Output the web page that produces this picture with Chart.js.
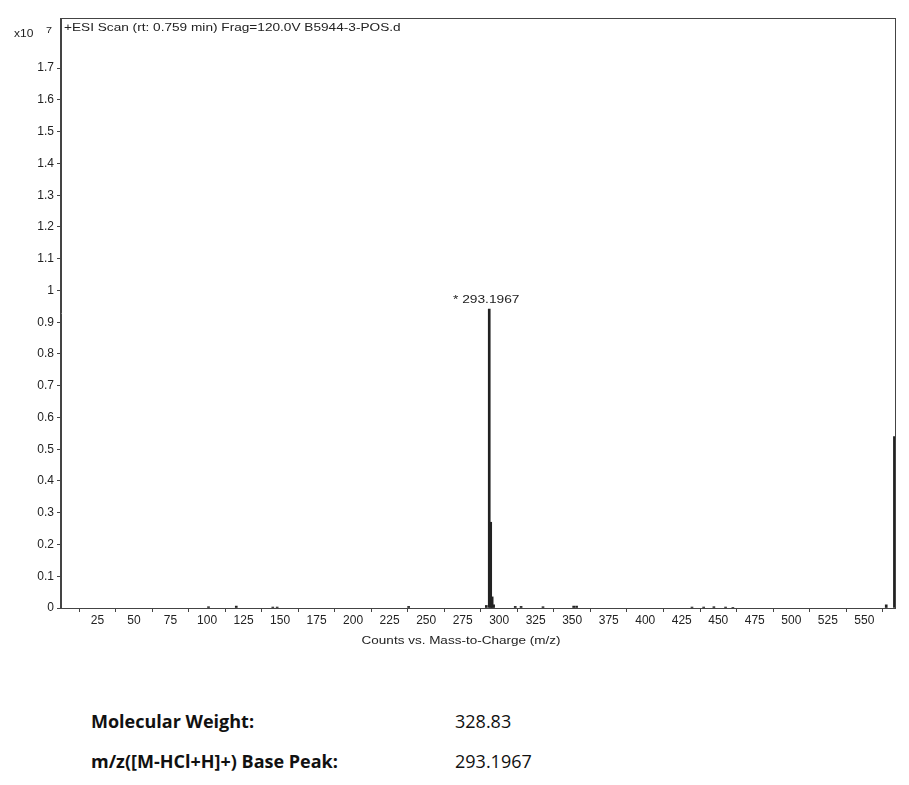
<!DOCTYPE html>
<html>
<head>
<meta charset="utf-8">
<script src="https://cdn.jsdelivr.net/npm/chart.js@4.4.1/dist/chart.umd.min.js"></script>
<style>
    body { margin: 0; background: #fff; }
    #wrap { position: relative; width: 909px; height: 785px; }
    #spectrum { position: absolute; left: 0; top: 0; }
    .info { position: absolute; font-family: "Open Sans", Lato, sans-serif; font-size: 18px; color: #111; line-height: 22px; }
    .label { left: 91px; font-weight: bold; }
    .value { left: 455px; }
</style>
</head>
<body>
<div id="wrap">
    <canvas id="spectrum" width="909" height="655"></canvas>
    <div class="info label" style="top: 710px;">Molecular Weight:</div>
    <div class="info value" style="top: 710px;">328.83</div>
    <div class="info label" style="top: 750px;">m/z([M-HCl+H]+) Base Peak:</div>
    <div class="info value" style="top: 750px;">293.1967</div>
</div>
<script>
// Spectrum data (intensity in x10^7 counts)
const peakMz = [101, 120, 145, 148, 238, 291.2, 293.1967, 294.2, 295.2, 296.2, 311, 315, 330, 351, 353, 432, 440, 447, 455, 460, 565, 570.6];
const peakIntensity = [0.004, 0.006, 0.003, 0.003, 0.005, 0.008, 0.941, 0.27, 0.035, 0.01, 0.005, 0.005, 0.004, 0.006, 0.006, 0.003, 0.003, 0.004, 0.003, 0.002, 0.01, 0.54];

const xTickValues = [0, 25, 50, 75, 100, 125, 150, 175, 200, 225, 250, 275, 300, 325, 350, 375, 400, 425, 450, 475, 500, 525, 550];
const yTickValues = [0, 0.1, 0.2, 0.3, 0.4, 0.5, 0.6, 0.7, 0.8, 0.9, 1, 1.1, 1.2, 1.3, 1.4, 1.5, 1.6, 1.7];

const scanTitle = '+ESI Scan (rt: 0.759 min) Frag=120.0V B5944-3-POS.d';
const xAxisTitle = 'Counts vs. Mass-to-Charge (m/z)';
const basePeakLabel = '* 293.1967';

const axisColor = '#444';
const fontFamily = 'Arial, "Liberation Sans", sans-serif';

// the scan image is stretched sideways, so texts get a horizontal scale
function wideText(ctx, text, x, y, size, align, stretch) {
    ctx.save();
    ctx.font = size + 'px ' + fontFamily;
    ctx.textAlign = align;
    ctx.textBaseline = 'middle';
    ctx.translate(x, y);
    ctx.scale(stretch, 1);
    ctx.fillText(text, 0, 0);
    ctx.restore();
}

// frame + header texts + axis title + base peak label
const decorations = {
    id: 'decorations',
    afterDraw(chart) {
        const ctx = chart.ctx;
        const area = chart.chartArea;
        ctx.save();
        ctx.strokeStyle = axisColor;
        ctx.lineWidth = 1;
        ctx.strokeRect(area.left - 0.5, area.top + 0.5, area.right - area.left + 1, area.bottom - area.top);
        ctx.fillStyle = '#222';

        wideText(ctx, 'x10', 14, 34, 10, 'left', 1.2);
        wideText(ctx, '7', 46, 31, 9, 'left', 1.2);
        wideText(ctx, scanTitle, area.left + 3, 28, 11, 'left', 1.24);
        wideText(ctx, xAxisTitle, 461, 641, 10, 'center', 1.35);

        const xs = chart.scales.x, ys = chart.scales.y;
        const i = peakIntensity.indexOf(Math.max(...peakIntensity));
        wideText(ctx, basePeakLabel, xs.getPixelForValue(peakMz[i]) - 3, ys.getPixelForValue(peakIntensity[i]) - 9, 11, 'center', 1.25);
        ctx.restore();
    }
};

new Chart(document.getElementById('spectrum'), {
    type: 'bar',
    data: {
        datasets: [{
            data: peakMz.map((m, i) => ({ x: m, y: peakIntensity[i] })),
            backgroundColor: '#222',
            barThickness: 2
        }]
    },
    options: {
        responsive: false,
        animation: false,
        layout: { padding: { top: 18, right: 14 } },
        plugins: { legend: { display: false }, tooltip: { enabled: false } },
        scales: {
            x: {
                type: 'linear',
                offset: false,
                min: 0,
                max: 571,
                grid: { display: true, drawOnChartArea: false, drawTicks: true, tickLength: 4, color: axisColor },
                border: { color: axisColor, width: 1 },
                afterBuildTicks: axis => { axis.ticks = xTickValues.map(v => ({ value: v })); },
                afterFit: axis => { axis.height = 47; },
                ticks: {
                    color: '#222',
                    font: { family: fontFamily, size: 12 },
                    padding: 1,
                    maxRotation: 0,
                    autoSkip: false,
                    callback: v => v === 0 ? '' : String(v)
                }
            },
            y: {
                min: 0,
                max: 1.858,
                grid: { display: true, drawOnChartArea: false, drawTicks: true, tickLength: 4, color: axisColor },
                border: { color: axisColor, width: 1 },
                afterBuildTicks: axis => { axis.ticks = yTickValues.map(v => ({ value: v })); },
                afterFit: axis => { axis.width = 61; },
                ticks: {
                    color: '#222',
                    font: { family: fontFamily, size: 12 },
                    padding: 3,
                    autoSkip: false,
                    callback: v => String(Math.round(v * 10) / 10)
                }
            }
        }
    },
    plugins: [decorations]
});
</script>
</body>
</html>
